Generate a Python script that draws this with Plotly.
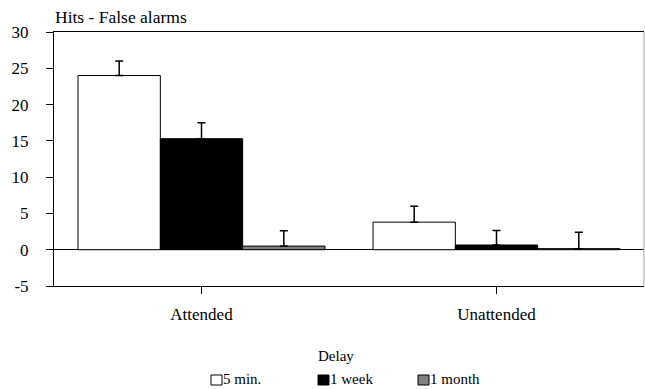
import plotly.graph_objects as go

categories = ["Attended", "Unattended"]
series_names = ["5 min.", "1 week", "1 month"]
values_5min = [24.0, 3.8]
values_1week = [15.3, 0.65]
values_1month = [0.5, 0.15]
errors_5min = [2.0, 2.2]
errors_1week = [2.2, 2.0]
errors_1month = [2.1, 2.25]
y_ticks = [-5, 0, 5, 10, 15, 20, 25, 30]
y_tick_labels = ["-5", "0", "5", "10", "15", "20", "25", "30"]

colors = ["#ffffff", "#000000", "#808080"]
values = [values_5min, values_1week, values_1month]
errors = [errors_5min, errors_1week, errors_1month]

FONT = "Liberation Serif"
W, H = 645, 389
L, R, T, B = 54, 1, 32, 103
pw, ph = W - L - R, H - T - B

fig = go.Figure()
for name, vals, errs, col in zip(series_names, values, errors, colors):
    fig.add_trace(go.Bar(
        x=categories, y=vals, name=name,
        marker=dict(color=col, line=dict(color="black", width=1)),
        error_y=dict(type="data", array=errs, arrayminus=[0] * len(errs),
                     symmetric=False, color="black", thickness=1.5, width=4),
        showlegend=False,
    ))

def px_x(px):
    return (px - L) / pw

def px_y(py):
    return (H - B - py) / ph

shapes = [
    dict(type="line", xref="paper", yref="paper", x0=1, x1=1, y0=0, y1=1,
         line=dict(color="#a0a0a0", width=1)),
]
annotations = [
    dict(text="Hits - False alarms", xref="paper", yref="paper",
         x=0, y=px_y(17), xanchor="left", yanchor="middle", showarrow=False,
         xshift=-1, font=dict(family=FONT, size=17.5, color="black")),
    dict(text="Delay", xref="paper", yref="paper",
         x=px_x(336), y=px_y(356), xanchor="center", yanchor="middle",
         showarrow=False, font=dict(family=FONT, size=15, color="black")),
]
legend_x = [211, 318, 418]
for lx, name, col in zip(legend_x, series_names, colors):
    shapes.append(dict(type="rect", xref="paper", yref="paper",
                       x0=px_x(lx), x1=px_x(lx + 11), y0=px_y(385), y1=px_y(375),
                       fillcolor=col, line=dict(color="black", width=1)))
    annotations.append(dict(text=name, xref="paper", yref="paper",
                            x=px_x(lx + 11), y=px_y(378.5), xanchor="left",
                            yanchor="middle", showarrow=False, borderpad=0,
                            font=dict(family=FONT, size=15, color="black")))

fig.update_layout(
    template="none",
    width=W, height=H,
    margin=dict(l=L, r=R, t=T, b=B, pad=0),
    paper_bgcolor="white", plot_bgcolor="white",
    barmode="group", bargap=0.163, bargroupgap=0,
    font=dict(family=FONT, size=17, color="black"),
    shapes=shapes, annotations=annotations,
    showlegend=False,
)
fig.update_xaxes(
    range=[-0.5, 1.5], showline=True, linecolor="black", linewidth=1,
    mirror=True, ticks="outside", ticklen=7, tickcolor="black",
    showgrid=False, ticklabelstandoff=6,
    tickfont=dict(family=FONT, size=17, color="black"),
)
fig.update_yaxes(
    range=[-5, 30], tickvals=y_ticks, ticktext=y_tick_labels, showline=True,
    linecolor="black", linewidth=1, ticks="outside", ticklen=7,
    tickcolor="black", showgrid=False, zeroline=True, zerolinecolor="black",
    zerolinewidth=1, ticklabelstandoff=14,
    tickfont=dict(family=FONT, size=17, color="black"),
)

fig.write_html(
    "out.html",
    config={"displayModeBar": False},
    post_script="document.body.style.margin='0';document.body.style.padding='0';",
)
